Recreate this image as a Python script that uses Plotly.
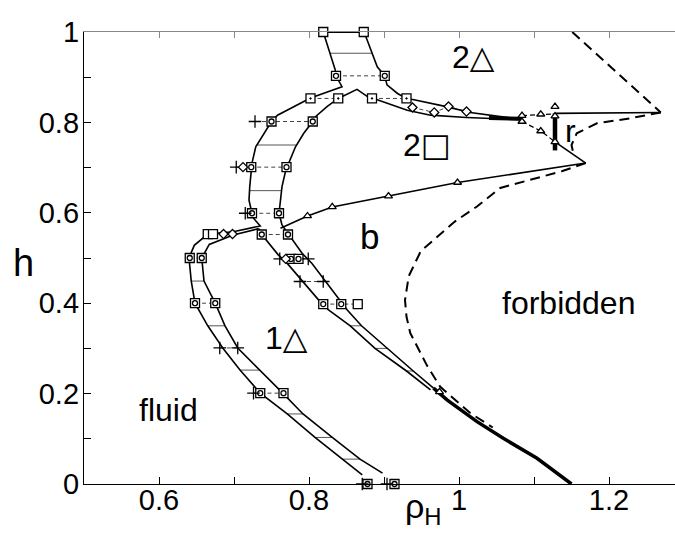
import numpy as np
import plotly.graph_objects as go

# ---------------- data ----------------
# fluid | 1-triangle coexistence
fluid_side_x = [0.871, 0.844, 0.808, 0.771, 0.735, 0.708, 0.685, 0.665, 0.648, 0.643, 0.640, 0.647, 0.665]
fluid_side_y = [0.020, 0.055, 0.103, 0.155, 0.201, 0.252, 0.301, 0.350, 0.400, 0.449, 0.500, 0.528, 0.553]
onetri_side_x = [0.898, 0.868, 0.831, 0.792, 0.765, 0.735, 0.705, 0.688, 0.675, 0.660, 0.657, 0.667, 0.699, 0.733]
onetri_side_y = [0.024, 0.055, 0.103, 0.155, 0.201, 0.252, 0.301, 0.350, 0.400, 0.449, 0.500, 0.530, 0.551, 0.565]

# 2-square loop (outer boundary, bottom junction -> top)
outer_x = [0.665, 0.699, 0.735, 0.726, 0.724, 0.720, 0.721, 0.724, 0.729, 0.740, 0.750, 0.758, 0.789, 0.802, 0.844, 0.836, 0.835, 0.821, 0.819]
outer_y = [0.553, 0.558, 0.571, 0.588, 0.599, 0.628, 0.658, 0.710, 0.746, 0.776, 0.802, 0.816, 0.843, 0.854, 0.879, 0.903, 0.916, 0.989, 1.000]
# 2-square loop (inner boundary)
inner_x = [0.764, 0.760, 0.762, 0.764, 0.770, 0.773, 0.782, 0.793, 0.805, 0.809, 0.824, 0.839, 0.864, 0.878, 0.884]
inner_y = [0.573, 0.599, 0.628, 0.658, 0.701, 0.710, 0.746, 0.776, 0.802, 0.813, 0.835, 0.853, 0.873, 0.857, 0.853]
# top coexistence right side continuing as upper 2sq|2tri line
topright_x = [0.873, 0.876, 0.891, 0.901, 0.904, 0.918, 0.930, 0.940, 0.980, 1.015, 1.073, 1.084]
topright_y = [1.000, 0.989, 0.923, 0.903, 0.883, 0.864, 0.853, 0.850, 0.836, 0.822, 0.809, 0.809]
# lower 2sq|2tri line
lower_x = [0.884, 0.891, 0.931, 0.962, 1.010, 1.051, 1.084]
lower_y = [0.853, 0.850, 0.827, 0.816, 0.811, 0.809, 0.806]
wedge_x = [1.040, 1.084]
wedge_y = [0.810, 0.808]

# 1-triangle | b coexistence
r1_x = [0.733, 0.737, 0.759, 0.771, 0.815, 0.826, 0.855, 0.888, 0.930, 0.962]
r1_y = [0.565, 0.552, 0.507, 0.488, 0.403, 0.385, 0.350, 0.300, 0.250, 0.208]
r2_x = [0.764, 0.773, 0.791, 0.804, 0.838, 0.851, 0.870, 0.904, 0.939, 0.966]
r2_y = [0.573, 0.552, 0.510, 0.488, 0.414, 0.385, 0.350, 0.300, 0.250, 0.212]
# b narrow band to h = 0
bband_x = [0.966, 0.984, 1.024, 1.059, 1.104, 1.150]
bband_y = [0.212, 0.186, 0.138, 0.101, 0.057, 0.000]

# b | 2-square line
bsq_x = [0.762, 0.798, 0.831, 0.906, 0.998, 1.169]
bsq_y = [0.566, 0.593, 0.613, 0.637, 0.667, 0.710]

# forbidden boundary (dashed)
forb_x = [1.169, 1.137, 1.095, 1.055, 1.024, 0.994, 0.949, 0.933, 0.928, 0.930, 0.935, 0.957, 0.975, 1.015, 1.045]
forb_y = [0.710, 0.692, 0.673, 0.655, 0.614, 0.580, 0.515, 0.460, 0.407, 0.370, 0.334, 0.263, 0.215, 0.157, 0.125]
topdash_x = [1.151, 1.269]
topdash_y = [1.000, 0.822]
rdash_x = [1.269, 1.228, 1.184, 1.157, 1.150, 1.152]
rdash_y = [0.822, 0.809, 0.798, 0.776, 0.750, 0.735]

# r phase
rbar_x = [1.128, 1.128]
rbar_y = [0.738, 0.820]
rtop_x = [1.128, 1.269]
rtop_y = [0.820, 0.822]
rbot_x = [1.128, 1.169]
rbot_y = [0.757, 0.710]
tri_up_x = [1.084, 1.109, 1.128]
tri_up_y = [0.815, 0.818, 0.819]
tri_lo_x = [1.084, 1.109, 1.128]
tri_lo_y = [0.802, 0.781, 0.757]

# tie lines between coexisting simulation points
tie_y  = [0.903, 0.853, 0.853, 0.802, 0.701, 0.599, 0.552, 0.500, 0.400, 0.301, 0.201, 0.498, 0.448, 0.398]
tie_xl = [0.836, 0.802, 0.884, 0.728, 0.703, 0.715, 0.737, 0.641, 0.648, 0.681, 0.726, 0.761, 0.788, 0.819]
tie_xr = [0.901, 0.839, 0.930, 0.805, 0.770, 0.760, 0.772, 0.657, 0.675, 0.705, 0.766, 0.799, 0.819, 0.865]
toptie_x = [0.819, 0.873]
toptie_y = [1.000, 1.000]

# hatch levels
hatch_fluid_y = [0.055, 0.103, 0.155, 0.252, 0.350, 0.449]
hatch_loop_y = [0.649, 0.750]
hatch_top_y = [0.953]
hatch_b_y = [0.250, 0.300, 0.350]

# simulation points
sq_plain_x = [0.819, 0.873, 0.865, 0.665, 0.672]
sq_plain_y = [1.000, 1.000, 0.398, 0.553, 0.553]
sq_dot_x = [0.802, 0.839, 0.884, 0.930]
sq_dot_y = [0.853, 0.853, 0.853, 0.853]
sq_circ_x = [0.836, 0.901, 0.750, 0.805, 0.723, 0.770, 0.724, 0.760, 0.737, 0.772, 0.641, 0.657,
             0.648, 0.675, 0.735, 0.766, 0.878, 0.914, 0.776, 0.786, 0.819, 0.843]
sq_circ_y = [0.903, 0.903, 0.802, 0.802, 0.701, 0.701, 0.599, 0.599, 0.552, 0.552, 0.500, 0.500,
             0.400, 0.400, 0.201, 0.201, 0.000, 0.000, 0.498, 0.498, 0.398, 0.398]
cross_x = [0.728, 0.703, 0.715, 0.681, 0.705, 0.726, 0.761, 0.799, 0.788, 0.819, 0.871, 0.904]
cross_y = [0.802, 0.701, 0.599, 0.301, 0.301, 0.201, 0.498, 0.498, 0.448, 0.448, 0.000, 0.000]
diam_x = [0.938, 0.967, 0.986, 1.010, 0.686, 0.698, 0.769, 0.712]
diam_y = [0.833, 0.822, 0.835, 0.824, 0.553, 0.553, 0.498, 0.701]
diam_line_x = [0.938, 0.967, 0.986, 1.010]
diam_line_y = [0.833, 0.822, 0.835, 0.824]
tri_x = [0.798, 0.831, 0.906, 0.998, 0.974, 1.084, 1.084, 1.109, 1.109, 1.128, 1.128, 1.128]
tri_y = [0.593, 0.613, 0.637, 0.667, 0.204, 0.815, 0.802, 0.818, 0.781, 0.814, 0.757, 0.835]

# region labels
SYM = "<span style='font-family:DejaVu Sans'>{}</span>"
lab_text = ["2" + SYM.format("△"), "2" + SYM.format("□"), "r", "b", "1" + SYM.format("△"), "fluid", "forbidden"]
lab_x = [1.019, 0.957, 1.148, 0.880, 0.770, 0.613, 1.146]
lab_y = [0.945, 0.750, 0.781, 0.547, 0.322, 0.164, 0.400]
lab_size = [32, 32, 32, 35, 32, 32, 32]

x_tickvals = [0.6, 0.8, 1.0, 1.2]
x_ticktext = ["0.6", "0.8", "1", "1.2"]
y_tickvals = [0, 0.2, 0.4, 0.6, 0.8, 1.0]
y_ticktext = ["0", "0.2", "0.4", "0.6", "0.8", "1"]

# ---------------- helpers ----------------
FONT = "Liberation Sans, Arial, Helvetica, sans-serif"
fig = go.Figure()


def add_line(xs, ys, width=1.6, dash=None, color="black"):
    fig.add_trace(go.Scatter(x=xs, y=ys, mode="lines", hoverinfo="skip", showlegend=False,
                             line=dict(color=color, width=width, dash=dash)))


def x_at(xs, ys, yv):
    for i in range(len(xs) - 1):
        y0, y1 = ys[i], ys[i + 1]
        if min(y0, y1) <= yv <= max(y0, y1) and y0 != y1:
            t = (yv - y0) / (y1 - y0)
            return xs[i] + t * (xs[i + 1] - xs[i])
    return None


def hatch(left, right, levels):
    hx, hy = [], []
    for yv in levels:
        a = x_at(left[0], left[1], yv)
        b = x_at(right[0], right[1], yv)
        if a is not None and b is not None:
            hx += [a, b, None]
            hy += [yv, yv, None]
    add_line(hx, hy, width=1.0, color="#555")


# hatching (tie-line bands)
hatch((fluid_side_x, fluid_side_y), (onetri_side_x, onetri_side_y), hatch_fluid_y)
hatch((outer_x, outer_y), (inner_x, inner_y), hatch_loop_y)
hatch((outer_x, outer_y), (topright_x, topright_y), hatch_top_y)
hatch((r1_x, r1_y), (r2_x, r2_y), hatch_b_y)

# tie lines
tx, ty = [], []
for a, b, yv in zip(tie_xl, tie_xr, tie_y):
    tx += [a, b, None]
    ty += [yv, yv, None]
add_line(tx, ty, width=1.0, dash="4px,3px", color="#444")
add_line(diam_line_x, diam_line_y, width=1.0, dash="4px,3px", color="#444")
add_line(toptie_x, toptie_y, width=1.8)

# phase boundaries
add_line(fluid_side_x, fluid_side_y)
add_line(onetri_side_x, onetri_side_y)
add_line(outer_x, outer_y)
add_line(inner_x, inner_y)
add_line(topright_x, topright_y)
add_line(lower_x, lower_y)
add_line(wedge_x, wedge_y, width=4)
add_line(r1_x, r1_y)
add_line(r2_x, r2_y)
add_line(bband_x, bband_y, width=3.5)
add_line(bsq_x, bsq_y)
add_line(forb_x, forb_y, width=2, dash="10px,6px")
add_line(topdash_x, topdash_y, width=2, dash="10px,6px")
add_line(rdash_x, rdash_y, width=2, dash="10px,6px")
add_line(rbar_x, rbar_y, width=4.5)
add_line(rtop_x, rtop_y, width=1.6)
add_line(rbot_x, rbot_y, width=1.6)
add_line(tri_up_x, tri_up_y, width=1.2, dash="5px,3px")
add_line(tri_lo_x, tri_lo_y, width=1.2, dash="5px,3px")


def add_markers(xs, ys, symbol, size, fill="white", lw=1.3):
    fig.add_trace(go.Scatter(x=xs, y=ys, mode="markers", hoverinfo="skip", showlegend=False,
                             cliponaxis=False,
                             marker=dict(symbol=symbol, size=size, color=fill,
                                         line=dict(color="black", width=lw))))


add_markers(sq_plain_x, sq_plain_y, "square", 9)
add_markers(sq_dot_x, sq_dot_y, "square-dot", 9)
add_markers(sq_circ_x, sq_circ_y, "square", 9)
add_markers(sq_circ_x, sq_circ_y, "circle-open", 5, fill="black", lw=1.3)
add_markers(cross_x, cross_y, "cross-thin-open", 9, fill="black", lw=1.3)
add_markers(diam_x, diam_y, "diamond", 7)
add_markers(tri_x, tri_y, "triangle-up", 7)

# invisible trace for the top mirror axis
fig.add_trace(go.Scatter(x=[0.5], y=[0], xaxis="x2", mode="markers", marker=dict(opacity=0),
                         showlegend=False, hoverinfo="skip"))

# region labels
for t, x, y, s in zip(lab_text, lab_x, lab_y, lab_size):
    fig.add_annotation(x=x, y=y, text=t, showarrow=False, xanchor="center", yanchor="middle",
                       font=dict(family=FONT, size=s, color="black"))

# axis titles
fig.add_annotation(xref="paper", yref="y", x=-0.103, y=0.49, text="h", showarrow=False,
                   xanchor="center", yanchor="middle", font=dict(family=FONT, size=38, color="black"))
fig.add_annotation(xref="x", yref="paper", x=0.952, y=-0.055, text="ρ<sub>H</sub>", showarrow=False,
                   xanchor="center", yanchor="middle", font=dict(family=FONT, size=34, color="black"))

xr = [0.5, 1.288]
fig.update_layout(
    width=675, height=540,
    margin=dict(l=84, r=0, t=32, b=56, autoexpand=False),
    plot_bgcolor="white", paper_bgcolor="white",
    font=dict(family=FONT, color="black"),
    xaxis=dict(range=xr, showgrid=False, zeroline=False, showline=True, linecolor="black",
               linewidth=1.3, ticks="inside", ticklen=7, tickcolor="black", tickwidth=1.2,
               tickvals=x_tickvals, ticktext=x_ticktext,
               tickfont=dict(size=29, family=FONT), ticklabelstandoff=-10,
               minor=dict(dtick=0.1, tick0=0.5, ticks="inside", ticklen=7, tickcolor="black", tickwidth=1.2)),
    xaxis2=dict(range=xr, overlaying="x", side="top", showgrid=False, zeroline=False, showline=True,
                linecolor="#888", linewidth=1, ticks="inside", ticklen=6, tickcolor="#888",
                dtick=0.1, tick0=0.5, showticklabels=False),
    yaxis=dict(range=[0, 1], showgrid=False, zeroline=False, showline=True, linecolor="black",
               linewidth=1.3, ticks="inside", ticklen=7, tickcolor="black", tickwidth=1.2,
               tickvals=y_tickvals, ticktext=y_ticktext,
               tickfont=dict(size=29, family=FONT), ticklabelstandoff=-2,
               minor=dict(dtick=0.1, tick0=0, ticks="inside", ticklen=7, tickcolor="black", tickwidth=1.2)),
)

fig.write_html("out.html", config={"displayModeBar": False},
               post_script="document.body.style.margin='0';document.body.style.overflow='hidden';")
